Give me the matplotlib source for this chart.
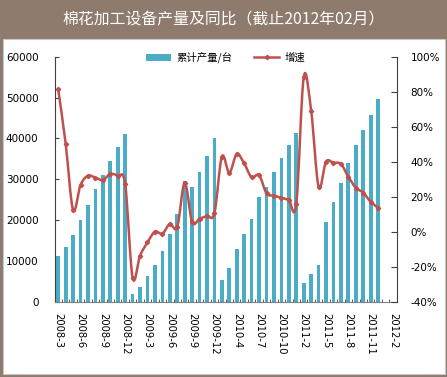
import numpy as np
import matplotlib
matplotlib.use("Agg")
import matplotlib.pyplot as plt
from matplotlib.path import Path
from matplotlib.patches import PathPatch, Rectangle, Patch
from matplotlib.lines import Line2D

# Category labels (one per month column in the source sheet)
months = (
    ["2008-%d" % m for m in range(3, 13)]
    + ["2009-%d" % m for m in range(1, 13)]
    + ["2010-%d" % m for m in range(2, 13)]
    + ["2011-%d" % m for m in range(2, 13)]
    + ["2012-1", "2012-2"]
)

# Cumulative output (units), last two months not reported
production = [
    11200, 13300, 16400, 20000, 23700, 27700, 31000, 34400, 38000, 41100,
    1800, 3700, 6300, 8900, 12300, 16700, 21500, 29600, 28000, 31800, 35700, 40200,
    5300, 8200, 12800, 16500, 20200, 25600, 28200, 31800, 35200, 38300, 41400,
    4500, 6800, 9000, 19500, 24300, 29100, 33900, 38300, 42000, 45600, 49600,
    np.nan, np.nan,
]

# Year-on-year growth (%)
growth = [
    81.3, 50.3, 12.4, 26.7, 32.0, 30.9, 29.5, 33.0, 31.8, 27.2,
    -26.3, -13.7, -6.1, 0.0, -1.1, 4.4, 2.7, 28.0, 5.5, 7.4, 9.0, 10.7,
    42.9, 33.7, 44.4, 39.0, 31.0, 32.4, 21.9, 20.6, 19.4, 18.1, 15.8,
    88.2, 69.1, 25.7, 40.0, 39.4, 38.7, 31.4, 25.1, 22.3, 17.1, 13.7,
]

title = "棉花加工设备产量及同比（截止2012年02月）"
bar_label = "累计产量/台"
line_label = "增速"

brown = "#8e7b6d"
blue = "#4bacc6"
red = "#c0504d"
cjk = ["Noto Sans CJK SC", "DejaVu Sans"]

plt.rcParams["font.family"] = ["DejaVu Sans", "Noto Sans CJK SC"]

W, H = 447, 377
fig = plt.figure(figsize=(W / 100, H / 100), dpi=100, facecolor=brown)
fig.patches.append(Rectangle((2.5 / W, 3.5 / H), 442 / W, 335 / H,
                             transform=fig.transFigure, facecolor="white",
                             edgecolor="#c8c8c8", lw=0.8, zorder=-1))
fig.text(0.5, 1 - 20 / H, title, ha="center", va="center", color="white",
         fontsize=11.4, family=cjk)

ax = fig.add_axes([54.5 / W, 1 - 301.7 / H, 342.2 / W, 245 / H])
ax.set_facecolor("none")
x = np.arange(len(months))
ax.bar(x, production, width=0.5, color=blue, zorder=2)
ax.set_xlim(-0.5, len(months) - 0.5)
ax.set_ylim(0, 60000)
ax.set_yticks(range(0, 60001, 10000))
ax.set_xticks(x[::3])
ax.set_xticklabels(months[::3], rotation=270, fontsize=7.2)
ax.set_xticks(np.arange(-0.5, len(months), 1), minor=True)
ax.tick_params(axis="x", which="major", length=0, pad=8)
ax.tick_params(axis="x", which="minor", direction="in", length=2.5, color="#404040")
ax.tick_params(axis="y", direction="in", length=3, pad=11.5, labelsize=7.5, color="#404040")
for s in ["top", "right"]:
    ax.spines[s].set_visible(False)
ax.spines["left"].set_color("#404040")
ax.spines["bottom"].set_color("#7f7f7f")

# growth line, smoothed the way Excel does it
ax2 = ax.twinx()
ax2.set_ylim(-40, 100)
ax2.set_yticks(range(-40, 101, 20))
ax2.set_yticklabels(["%d%%" % v for v in range(-40, 101, 20)])
ax2.tick_params(axis="y", direction="in", length=4, pad=10, labelsize=7.5, color="#404040")
for s in ["top", "left", "bottom"]:
    ax2.spines[s].set_visible(False)
ax2.spines["right"].set_color("#404040")

pts = np.column_stack([x[:len(growth)], growth]).astype(float)
verts = [pts[0]]
codes = [Path.MOVETO]
for i in range(len(pts) - 1):
    p0 = pts[i - 1] if i > 0 else pts[i]
    p1, p2 = pts[i], pts[i + 1]
    p3 = pts[i + 2] if i + 2 < len(pts) else pts[i + 1]
    verts += [p1 + (p2 - p0) / 6, p2 - (p3 - p1) / 6, p2]
    codes += [Path.CURVE4] * 3
ax2.add_patch(PathPatch(Path(verts, codes), fill=False, edgecolor=red, lw=1.8, zorder=3))
ax2.plot(pts[:, 0], pts[:, 1], linestyle="none", marker="D", ms=2.2, color=red, zorder=4)

handles = [Patch(facecolor=blue, edgecolor="none"),
           Line2D([], [], color=red, lw=1.8, marker="D", ms=2.2)]
leg = ax2.legend(handles, [bar_label, line_label], ncol=2, loc="center",
                 bbox_to_anchor=(0.5, 1 - 1 / 245), frameon=False,
                 prop={"family": cjk, "size": 7.5}, handlelength=2.4,
                 handletextpad=0.55, columnspacing=2.1)

fig.savefig("out.png", dpi=100, facecolor=fig.get_facecolor())
